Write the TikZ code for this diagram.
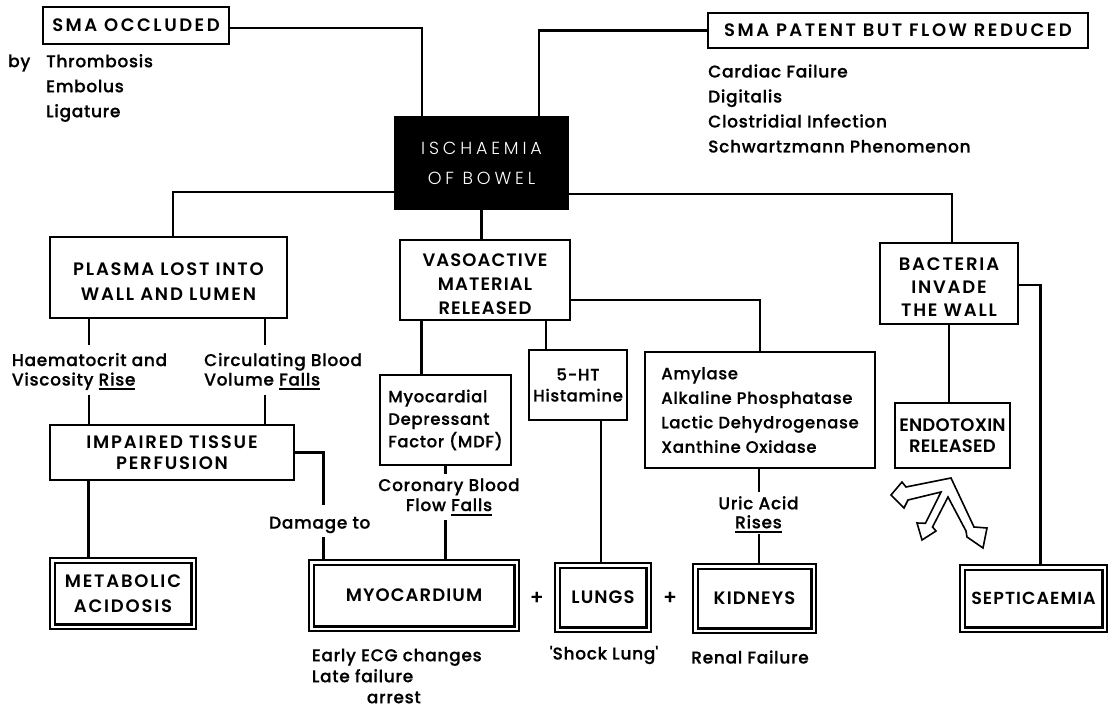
\documentclass[tikz,border=0pt]{standalone}
\usepackage{fontspec}
\IfFontExistsTF{Poppins SemiBold}{\def\BXname{Poppins SemiBold}}{\def\BXname{Poppins Bold}}
\IfFontExistsTF{Poppins Medium}{\def\LBname{Poppins Medium}}{\def\LBname{Poppins}}
\IfFontExistsTF{Poppins Light}{\def\ISname{Poppins Light}}{\def\ISname{Poppins}}
\setmainfont{\LBname}
\newfontfamily\bxf{\BXname}[LetterSpace=6]
\newfontfamily\bxw{\BXname}[LetterSpace=14]
\newfontfamily\bxm{\BXname}[LetterSpace=10]
\newfontfamily\bxn{\BXname}[LetterSpace=1]
\newfontfamily\isf{\ISname}[LetterSpace=22]
\newfontfamily\lbm{\LBname}[LetterSpace=4,FakeBold=0.6]
\newcommand\BoxF[2]{\bxf\fontsize{#1}{#2}\selectfont}
\newcommand\BoxW[2]{\bxw\fontsize{#1}{#2}\selectfont}
\newcommand\BoxM[2]{\bxm\fontsize{#1}{#2}\selectfont}
\newcommand\BoxN[2]{\bxn\fontsize{#1}{#2}\selectfont}
\newcommand\LblF[2]{\lbm\fontsize{#1}{#2}\selectfont}
\newcommand\IschF{\isf\fontsize{17.5}{30}\selectfont}
\newcommand\myul[1]{\setbox0\hbox{#1}\rlap{\rule[-4.5pt]{\wd0}{1.6pt}}#1}
\begin{document}
\begin{tikzpicture}[x=1pt,y=-1pt,
  box/.style={draw, line width=1.8pt, inner sep=0pt, align=center},
  dbox/.style={draw, line width=1.6pt, inner sep=0pt, align=center},
  inner/.style={line width=2.4pt},
  conn/.style={line width=2.6pt},
  lbl/.style={inner sep=0pt}]
\useasboundingbox (0,0) rectangle (1111,708);
\fill[white] (0,0) rectangle (1111,708);

% ---------- boxes ----------
\node[box, minimum width=186pt, minimum height=37pt, font=\BoxW{18}{24}] (occ) at (136,25.5) {SMA OCCLUDED};
\node[box, minimum width=380pt, minimum height=35pt, font=\BoxW{18}{24}] (pat) at (898,30.5) {SMA PATENT BUT FLOW REDUCED};
\node[box, fill=black, text=white, minimum width=173pt, minimum height=92pt, font=\IschF] (isch) at (481.5,163) {ISCHAEMIA\\OF BOWEL};
\node[box, minimum width=237pt, minimum height=81pt, font=\BoxM{18}{25}, text height=46pt] (plasma) at (168.5,277.5) {PLASMA LOST INTO\\WALL AND LUMEN};
\node[box, minimum width=170pt, minimum height=80pt, font=\BoxF{18}{24}, text height=69pt] (vaso) at (485,280) {VASOACTIVE\\MATERIAL\\RELEASED};
\node[box, minimum width=138pt, minimum height=81pt, font=\BoxM{18}{23}, text height=67pt] (bact) at (949,283.5) {BACTERIA\\INVADE\\THE WALL};
\node[box, minimum width=131pt, minimum height=90pt, align=left, font=\LblF{16.5}{22.5}] (mdf) at (445.5,420) {Myocardial\\Depressant\\Factor (MDF)};
\node[box, minimum width=98pt, minimum height=70pt, font=\LblF{16.5}{21}] (ht) at (578,385) {5-HT\\Histamine};
\node[box, minimum width=230pt, minimum height=116pt, align=left, font=\LblF{16.5}{24.5}] (amyl) at (760,410) {Amylase\\Alkaline Phosphatase\\Lactic Dehydrogenase\\Xanthine Oxidase};
\node[box, minimum width=115pt, minimum height=65pt, font=\BoxN{18}{21}] (endo) at (952.5,435.5) {ENDOTOXIN\\RELEASED};
\node[box, minimum width=244pt, minimum height=55pt, font=\BoxM{18}{21}] (imp) at (172,452.5) {IMPAIRED TISSUE\\PERFUSION};
\node[dbox, minimum width=146pt, minimum height=71pt, font=\BoxM{18}{25}] (meta) at (123,593.5) {METABOLIC\\ACIDOSIS};
\node[dbox, minimum width=210pt, minimum height=71pt, font=\BoxF{18}{24}] (myo) at (414,595.5) {MYOCARDIUM};
\node[dbox, minimum width=96pt, minimum height=69pt, font=\BoxF{18}{24}] (lungs) at (603,597.5) {LUNGS};
\node[dbox, minimum width=123pt, minimum height=69pt, font=\BoxF{18}{24}] (kid) at (754.5,598.5) {KIDNEYS};
\node[dbox, minimum width=147pt, minimum height=67pt, font=\BoxF{17.5}{24}] (sept) at (1033.5,598.5) {SEPTICAEMIA};
\foreach \n in {meta,myo,lungs,kid,sept}
  \draw[inner] ([shift={(5.5pt,-5.5pt)}]\n.north west) rectangle ([shift={(-5.5pt,5.5pt)}]\n.south east);

% ---------- labels ----------
\node[lbl, anchor=west, font=\LblF{17}{25}] (by) at (8,63) {by};
\node[lbl, anchor=west, align=left, font=\LblF{17}{25}] (occlist) at (46,88) {Thrombosis\\Embolus\\Ligature};
\node[lbl, anchor=west, align=left, font=\LblF{17}{25}] (patlist) at (708,108.5) {Cardiac Failure\\Digitalis\\Clostridial Infection\\Schwartzmann Phenomenon};
\node[lbl, anchor=west, align=left, font=\LblF{17}{19.5}] (hv) at (11.7,371.5) {Haematocrit and\\Viscosity \myul{Rise}};
\node[lbl, anchor=west, align=left, font=\LblF{17}{19.5}] (cb) at (204,371.5) {Circulating Blood\\Volume \myul{Falls}};
\node[lbl, anchor=west, font=\LblF{17}{20}] (dmg) at (269,525) {Damage to};
\node[lbl, align=center, font=\LblF{17}{20}] (cor) at (449,497) {Coronary Blood\\Flow \myul{Falls}};
\node[lbl, align=center, font=\LblF{17}{19}] (uric) at (758.5,514.5) {Uric Acid\\\myul{Rises}};
\node[lbl, anchor=west, align=left, font=\LblF{17}{21}] (ecg) at (311.7,676) {Early ECG changes\\Late failure\\\hspace*{55pt}arrest};
\node[lbl, font=\LblF{17}{20}] (shock) at (604,655) {\textquotesingle Shock Lung\textquotesingle};
\node[lbl, font=\LblF{17}{20}] (renal) at (750,657) {Renal Failure};
\node[lbl, font=\LblF{20}{20}] (plusa) at (536.7,598) {+};
\node[lbl, font=\LblF{20}{20}] (plusb) at (670,598) {+};

% ---------- free ends of broken connectors ----------
\coordinate (hvtop) at (89,345);
\coordinate (hvbot) at (89,395);
\coordinate (cbtop) at (265,345);
\coordinate (cbbot) at (265,395);
\coordinate (dmgtop) at (323.3,505);
\coordinate (dmgbot) at (323.3,537);
\coordinate (cortop) at (445.7,474);
\coordinate (corbot) at (445.7,520);
\coordinate (urictop) at (759,492);
\coordinate (uricbot) at (759,534);
\coordinate (lungx) at (601,0);

% ---------- connectors ----------
\draw[conn] ([yshift=-2.5]occ.east) -| ([xshift=-59.5]isch.north);
\draw[conn] (pat.west) -| ([xshift=57.5]isch.north);
\draw[conn] ([yshift=-29]isch.west) -| ([xshift=4.5]plasma.north);
\draw[conn] ([yshift=-31]isch.east) -| ([xshift=3]bact.north);
\draw[conn] (isch.south) -- (isch.south |- vaso.north);
\draw[conn] ([yshift=-20]vaso.east) -| (amyl.north);
\draw[conn] ([xshift=-24]mdf.north) -- ([xshift=-24]mdf.north |- vaso.south);
\draw[conn] ([xshift=-32]ht.north) -- ([xshift=-32]ht.north |- vaso.south);
\draw[conn] ([yshift=-1.5]bact.east) -| ([xshift=7]sept.north);
\draw[conn] (bact.south) -- (bact.south |- endo.north);
\draw[conn] (plasma.south -| hvtop) -- (hvtop);
\draw[conn] (hvbot) -- (hvbot |- imp.north);
\draw[conn] (plasma.south -| cbtop) -- (cbtop);
\draw[conn] (cbbot) -- (cbbot |- imp.north);
\draw[conn] ([xshift=-34.5]meta.north) -- ([xshift=-34.5]meta.north |- imp.south);
\draw[conn] (imp.east) -| (dmgtop);
\draw[conn] (dmgbot) -- (dmgbot |- myo.north);
\draw[conn] (mdf.south -| cortop) -- (cortop);
\draw[conn] (corbot) -- (corbot |- myo.north);
\draw[conn] (ht.south -| lungx) -- (lungs.north -| lungx);
\draw[conn] (amyl.south -| urictop) -- (urictop);
\draw[conn] (uricbot) -- (uricbot |- kid.north);

% ---------- hollow three-way arrow ----------
\draw[line width=1.6pt, line join=miter, fill=white]
  (891,495) -- (902,482) -- (906,487) -- (951,478) -- (974,527) -- (987,528)
  -- (983,548) -- (967,537) -- (966,531) -- (948,497) -- (932.5,527) -- (936,531)
  -- (922,540) -- (917,523) -- (925.4,523.3) -- (941,492) -- (908,500) -- (904,508) -- cycle;
\end{tikzpicture}
\end{document}
